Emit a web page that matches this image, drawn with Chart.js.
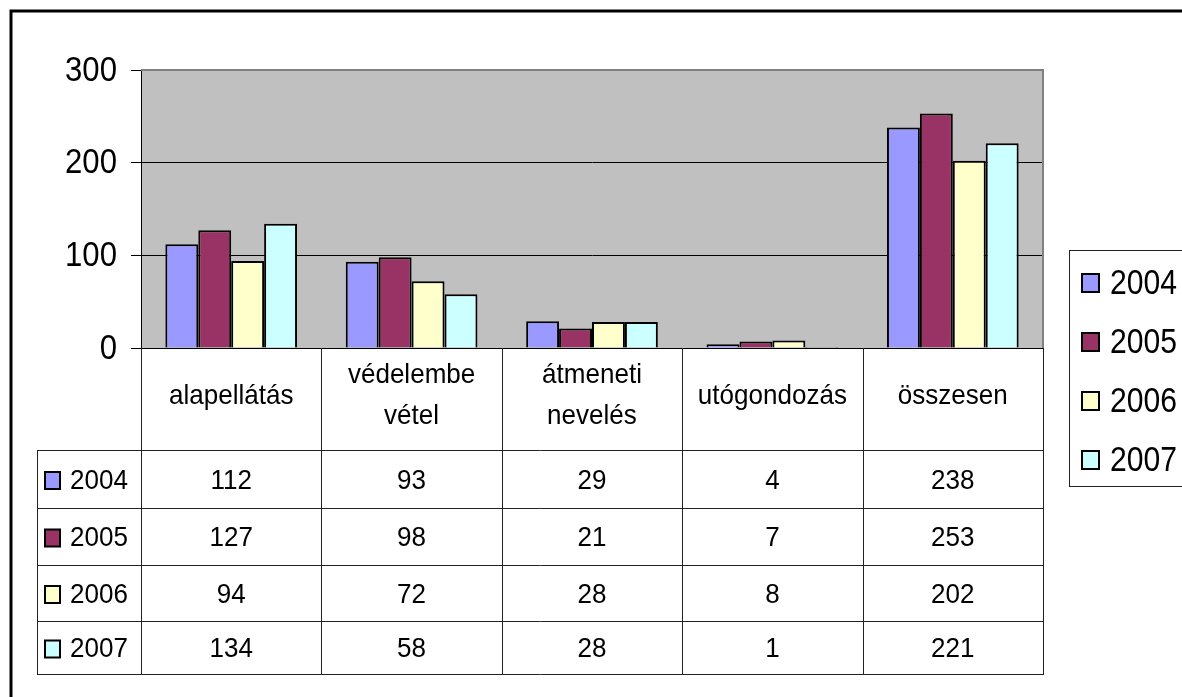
<!DOCTYPE html>
<html>
<head>
<meta charset="utf-8">
<script src="https://cdn.jsdelivr.net/npm/chart.js@4/dist/chart.umd.min.js"></script>
<style>
  html, body { margin: 0; padding: 0; background: #fff; }
  canvas { display: block; }
</style>
</head>
<body>
<canvas id="myChart" width="1182" height="697"></canvas>
<script>
// Data (values also shown in the data table)
const categories = [["alapellátás"], ["védelembe", "vétel"], ["átmeneti", "nevelés"], ["utógondozás"], ["összesen"]];
const years = ["2004", "2005", "2006", "2007"];
const values2004 = [112, 93, 29, 4, 238];
const values2005 = [127, 98, 21, 7, 253];
const values2006 = [94, 72, 28, 8, 202];
const values2007 = [134, 58, 28, 1, 221];
const yTicks = [0, 100, 200, 300];

// Excel 2003 default palette
const yearColors = ["#9999FF", "#993366", "#FFFFCC", "#CCFFFF"];
const FONT = '"Liberation Sans", Arial, sans-serif';

const seriesValues = [values2004, values2005, values2006, values2007];

// Excel renders this font a little narrow: squeeze text horizontally
function squeezedText(ctx, text, x, y, sx) {
    ctx.save();
    ctx.translate(x, y);
    ctx.scale(sx, 1);
    ctx.fillText(text, 0, 0);
    ctx.restore();
}

function keyBox(ctx, color, x, y, w, h) {
    ctx.fillStyle = color;
    ctx.fillRect(x, y, w, h);
    ctx.strokeStyle = "#000";
    ctx.lineWidth = 2;
    ctx.strokeRect(x, y, w, h);
}

// Plot background, frame, tick labels, data table and legend
const decorations = {
    id: "decorations",
    beforeDraw(chart) {
        const { ctx, chartArea: a } = chart;
        ctx.save();
        ctx.fillStyle = "#fff";
        ctx.fillRect(0, 0, chart.width, chart.height);
        ctx.fillStyle = "#C0C0C0";
        ctx.fillRect(a.left, a.top, a.right - a.left, a.bottom - a.top);
        ctx.restore();
    },
    beforeDatasetsDraw(chart) {
        const { ctx, chartArea: a } = chart;
        ctx.save();
        ctx.strokeStyle = "#808080";
        ctx.lineWidth = 2;
        ctx.beginPath();
        ctx.moveTo(a.left, a.top);
        ctx.lineTo(a.right, a.top);
        ctx.lineTo(a.right, a.bottom);
        ctx.stroke();
        ctx.restore();
    },
    afterDraw(chart) {
        const { ctx, chartArea: a } = chart;
        const x = chart.scales.x;
        const y = chart.scales.y;
        const n = chart.data.labels.length;
        const colW = (a.right - a.left) / n;
        const headerBottom = a.bottom + 102;
        const rowHeights = [58, 57, 56, 53];
        const rowTops = [headerBottom];
        rowHeights.forEach(h => rowTops.push(rowTops[rowTops.length - 1] + h));
        const tableLeft = 37;
        const tableBottom = rowTops[rowTops.length - 1];

        ctx.save();
        // outer chart frame (cut off at right and bottom)
        ctx.strokeStyle = "#000";
        ctx.lineWidth = 3;
        ctx.strokeRect(11, 11, 1300, 800);

        // y tick labels
        ctx.fillStyle = "#000";
        ctx.font = "35px " + FONT;
        ctx.textAlign = "right";
        ctx.textBaseline = "middle";
        yTicks.forEach(v => squeezedText(ctx, String(v), 117, y.getPixelForValue(v) + 1, 0.89));

        // table grid
        ctx.strokeStyle = "#222";
        ctx.lineWidth = 1;
        ctx.beginPath();
        for (let i = 0; i <= n; i++) {
            const lx = Math.round(a.left + i * colW) + 0.5;
            ctx.moveTo(lx, a.bottom);
            ctx.lineTo(lx, tableBottom);
        }
        ctx.moveTo(tableLeft + 0.5, headerBottom);
        ctx.lineTo(tableLeft + 0.5, tableBottom);
        rowTops.forEach(t => {
            const ly = Math.round(t) + 0.5;
            ctx.moveTo(tableLeft, ly);
            ctx.lineTo(a.right + 1, ly);
        });
        ctx.stroke();

        // category headers
        ctx.fillStyle = "#000";
        ctx.font = "28px " + FONT;
        ctx.textAlign = "center";
        chart.data.labels.forEach((lab, i) => {
            const cx = x.getPixelForValue(i);
            const lines = Array.isArray(lab) ? lab : [lab];
            const lh = 41;
            const cy = (a.bottom + headerBottom) / 2 - 3;
            lines.forEach((t, k) => {
                squeezedText(ctx, t, cx, cy + (k - (lines.length - 1) / 2) * lh, 0.93);
            });
        });

        // rows: key, year, values
        chart.data.datasets.forEach((ds, r) => {
            const cy = rowTops[r] + rowHeights[r] / 2 + 2;
            keyBox(ctx, ds.backgroundColor, 45, cy - 9, 15, 17);
            ctx.fillStyle = "#000";
            ctx.textAlign = "left";
            squeezedText(ctx, ds.label, 70, cy, 0.93);
            ctx.textAlign = "center";
            ds.data.forEach((v, i) => {
                squeezedText(ctx, String(v), x.getPixelForValue(i), cy, 0.93);
            });
        });

        // legend box
        ctx.strokeStyle = "#222";
        ctx.lineWidth = 1;
        ctx.strokeRect(1069.5, 250.5, 200, 236);
        ctx.font = "35px " + FONT;
        ctx.textAlign = "left";
        chart.data.datasets.forEach((ds, r) => {
            const cy = 283 + r * 59;
            keyBox(ctx, ds.backgroundColor, 1082, cy - 9, 17, 18);
            ctx.fillStyle = "#000";
            squeezedText(ctx, ds.label, 1110, cy + 1, 0.86);
        });
        ctx.restore();
    }
};

const ctx = document.getElementById("myChart").getContext("2d");
const chart = new Chart(ctx, {
    type: "bar",
    data: {
        labels: categories,
        datasets: years.map((yr, i) => ({
            label: yr,
            data: seriesValues[i],
            backgroundColor: yearColors[i],
            borderColor: "#000",
            borderWidth: 2,
            categoryPercentage: 0.73,
            barPercentage: 1.0
        }))
    },
    options: {
        responsive: false,
        animation: false,
        devicePixelRatio: 1,
        layout: { padding: { left: 0, top: 70, right: 139, bottom: 349 } },
        plugins: {
            legend: { display: false },
            tooltip: { enabled: false }
        },
        scales: {
            x: {
                grid: { display: false },
                ticks: { display: false },
                border: { display: true, color: "#000", width: 1 },
                afterFit: s => { s.height = 0; }
            },
            y: {
                min: 0,
                max: 300,
                afterBuildTicks: s => { s.ticks = yTicks.map(v => ({ value: v })); },
                ticks: { display: false },
                grid: {
                    color: c => (c.tick && c.tick.value === 300 ? "#808080" : "#000"),
                    tickColor: "#000",
                    tickLength: 10,
                    drawTicks: true,
                    lineWidth: 1
                },
                border: { display: true, color: "#000", width: 1 },
                afterFit: s => { s.width = 141; }
            }
        }
    },
    plugins: [decorations]
});
</script>
</body>
</html>
